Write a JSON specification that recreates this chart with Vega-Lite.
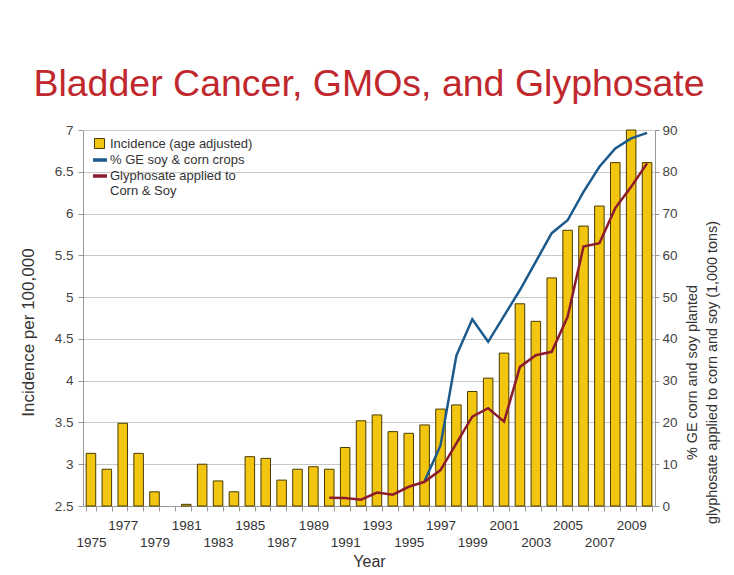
{
  "$schema": "https://vega.github.io/schema/vega-lite/v6.json",
  "autosize": {"type": "none"},
  "width": 572,
  "height": 376,
  "padding": {"left": 83, "top": 130, "right": 79, "bottom": 69},
  "background": "white",
  "config": {"font": "Liberation Sans", "view": {"stroke": null}},
  "title": {"text": "Bladder Cancer, GMOs, and Glyphosate", "fontSize": 37.5, "font": "Liberation Sans", "fontWeight": "normal", "color": "#c0282d", "anchor": "middle", "frame": "group", "baseline": "alphabetic", "offset": -10},
  "data": {"values": [
    {"year": 1975, "incidence": 3.13, "ge": null, "gly": null},
    {"year": 1976, "incidence": 2.94, "ge": null, "gly": null},
    {"year": 1977, "incidence": 3.49, "ge": null, "gly": null},
    {"year": 1978, "incidence": 3.13, "ge": null, "gly": null},
    {"year": 1979, "incidence": 2.67, "ge": null, "gly": null},
    {"year": 1980, "incidence": null, "ge": null, "gly": null},
    {"year": 1981, "incidence": 2.52, "ge": null, "gly": null},
    {"year": 1982, "incidence": 3.0, "ge": null, "gly": null},
    {"year": 1983, "incidence": 2.8, "ge": null, "gly": null},
    {"year": 1984, "incidence": 2.67, "ge": null, "gly": null},
    {"year": 1985, "incidence": 3.09, "ge": null, "gly": null},
    {"year": 1986, "incidence": 3.07, "ge": null, "gly": null},
    {"year": 1987, "incidence": 2.81, "ge": null, "gly": null},
    {"year": 1988, "incidence": 2.94, "ge": null, "gly": null},
    {"year": 1989, "incidence": 2.97, "ge": null, "gly": null},
    {"year": 1990, "incidence": 2.94, "ge": null, "gly": 2.0},
    {"year": 1991, "incidence": 3.2, "ge": null, "gly": 1.9},
    {"year": 1992, "incidence": 3.52, "ge": null, "gly": 1.5},
    {"year": 1993, "incidence": 3.59, "ge": null, "gly": 3.2},
    {"year": 1994, "incidence": 3.39, "ge": null, "gly": 2.7},
    {"year": 1995, "incidence": 3.37, "ge": null, "gly": 4.6},
    {"year": 1996, "incidence": 3.47, "ge": 6, "gly": 5.8},
    {"year": 1997, "incidence": 3.66, "ge": 14.5, "gly": 8.6},
    {"year": 1998, "incidence": 3.71, "ge": 36, "gly": 15},
    {"year": 1999, "incidence": 3.87, "ge": 44.7, "gly": 21.4},
    {"year": 2000, "incidence": 4.03, "ge": 39.3, "gly": 23.4},
    {"year": 2001, "incidence": 4.33, "ge": 45.5, "gly": 20.2},
    {"year": 2002, "incidence": 4.92, "ge": 51.7, "gly": 33.3},
    {"year": 2003, "incidence": 4.71, "ge": 58.5, "gly": 36.1},
    {"year": 2004, "incidence": 5.23, "ge": 65.3, "gly": 36.9},
    {"year": 2005, "incidence": 5.8, "ge": 68.4, "gly": 45.3},
    {"year": 2006, "incidence": 5.85, "ge": 75.2, "gly": 62.1},
    {"year": 2007, "incidence": 6.09, "ge": 81.2, "gly": 62.9},
    {"year": 2008, "incidence": 6.61, "ge": 85.6, "gly": 71.3},
    {"year": 2009, "incidence": 7.0, "ge": 88, "gly": 76.4},
    {"year": 2010, "incidence": 6.61, "ge": 89.3, "gly": 82}
  ]},
  "layer": [
    {
      "mark": {"type": "bar", "stroke": "#4a3c00", "strokeWidth": 1},
      "encoding": {
        "x": {
          "field": "year", "type": "ordinal",
          "scale": {"domain": [1975,1976,1977,1978,1979,1980,1981,1982,1983,1984,1985,1986,1987,1988,1989,1990,1991,1992,1993,1994,1995,1996,1997,1998,1999,2000,2001,2002,2003,2004,2005,2006,2007,2008,2009,2010], "paddingInner": 0.4, "paddingOuter": 0.2},
          "axis": {
            "title": "Year", "titleFontSize": 16, "titleFontWeight": "normal", "titleColor": "#333", "titleY": 55, "titleBaseline": "middle",
            "labelExpr": "(datum.value - 1977) % 4 == 0 ? '' + datum.value : ((datum.value - 1975) % 4 == 0 ? ['', '' + datum.value] : '')",
            "labelAngle": 0, "labelOverlap": false, "labelLineHeight": 17, "labelFontSize": 13.5, "labelColor": "#333", "labelPadding": 7,
            "tickBand": "extent", "tickSize": 5, "tickColor": "#999", "domainColor": "#999", "grid": false
          }
        },
        "y": {
          "field": "incidence", "type": "quantitative",
          "scale": {"domain": [2.5, 7], "zero": false, "nice": false},
          "axis": {
            "title": "Incidence per 100,000", "titleFontSize": 17, "titleFontWeight": "normal", "titleColor": "#333", "titleX": -55, "titleY": 202, "titleBaseline": "middle",
            "values": [2.5, 3, 3.5, 4, 4.5, 5, 5.5, 6, 6.5, 7], "format": ".1~f",
            "grid": true, "gridColor": "#c8c8c8", "domainColor": "#999", "tickColor": "#999", "tickSize": 5,
            "labelFontSize": 13.5, "labelColor": "#444", "labelPadding": 5
          }
        },
        "y2": {"datum": 2.5},
        "fill": {
          "datum": "Incidence (age adjusted)", "type": "nominal",
          "scale": {"domain": ["Incidence (age adjusted)"], "range": ["#f2c511"]},
          "legend": {
            "title": null, "orient": "none", "legendX": 10, "legendY": 7, "padding": 0,
            "labelFontSize": 13, "labelColor": "#333", "labelLimit": 300, "symbolSize": 100, "labelOffset": 4,
            "symbolType": "square", "symbolStrokeColor": "#4a3c00", "symbolStrokeWidth": 1, "symbolOpacity": 1
          }
        }
      }
    },
    {
      "layer": [
        {
          "transform": [{"filter": "datum.ge != null"}],
          "mark": {"type": "line", "strokeWidth": 2.5},
          "encoding": {
            "x": {"field": "year", "type": "ordinal"},
            "y": {
              "field": "ge", "type": "quantitative",
              "scale": {"domain": [0, 90], "nice": false},
              "axis": {
                "orient": "right",
                "title": ["% GE corn and soy planted", "glyphosate applied to corn and soy (1,000 tons)"],
                "titleAngle": 270, "titleX": 37, "titleY": 242, "titleBaseline": "middle", "titleAlign": "center", "titleLineHeight": 20,
                "titleFontSize": 14.4, "titleFontWeight": "normal", "titleColor": "#333",
                "values": [0, 10, 20, 30, 40, 50, 60, 70, 80, 90],
                "grid": false, "domainColor": "#999", "tickColor": "#999", "tickSize": 4,
                "labelFontSize": 13.5, "labelColor": "#444", "labelPadding": 3
              }
            },
            "stroke": {
              "datum": "% GE soy & corn crops", "type": "nominal",
              "scale": {"domain": ["% GE soy & corn crops", "Glyphosate applied to Corn & Soy"], "range": ["#1d5a8c", "#8c1c2c"]},
              "legend": {
                "title": null, "orient": "none", "legendX": 8, "legendY": 21, "padding": 0,
                "labelFontSize": 13, "labelColor": "#333", "labelLimit": 300, "rowPadding": -1, "labelLineHeight": 16,
                "symbolType": "stroke", "symbolSize": 196, "symbolStrokeWidth": 3.5, "labelOffset": 1,
                "labelExpr": "datum.label == 'Glyphosate applied to Corn & Soy' ? ['Glyphosate applied to', 'Corn & Soy'] : datum.label"
              }
            }
          }
        },
        {
          "transform": [{"filter": "datum.gly != null"}],
          "mark": {"type": "line", "strokeWidth": 2.5},
          "encoding": {
            "x": {"field": "year", "type": "ordinal"},
            "y": {"field": "gly", "type": "quantitative"},
            "stroke": {"datum": "Glyphosate applied to Corn & Soy", "type": "nominal"}
          }
        }
      ]
    }
  ],
  "resolve": {"scale": {"y": "independent"}, "axis": {"y": "independent"}}
}
